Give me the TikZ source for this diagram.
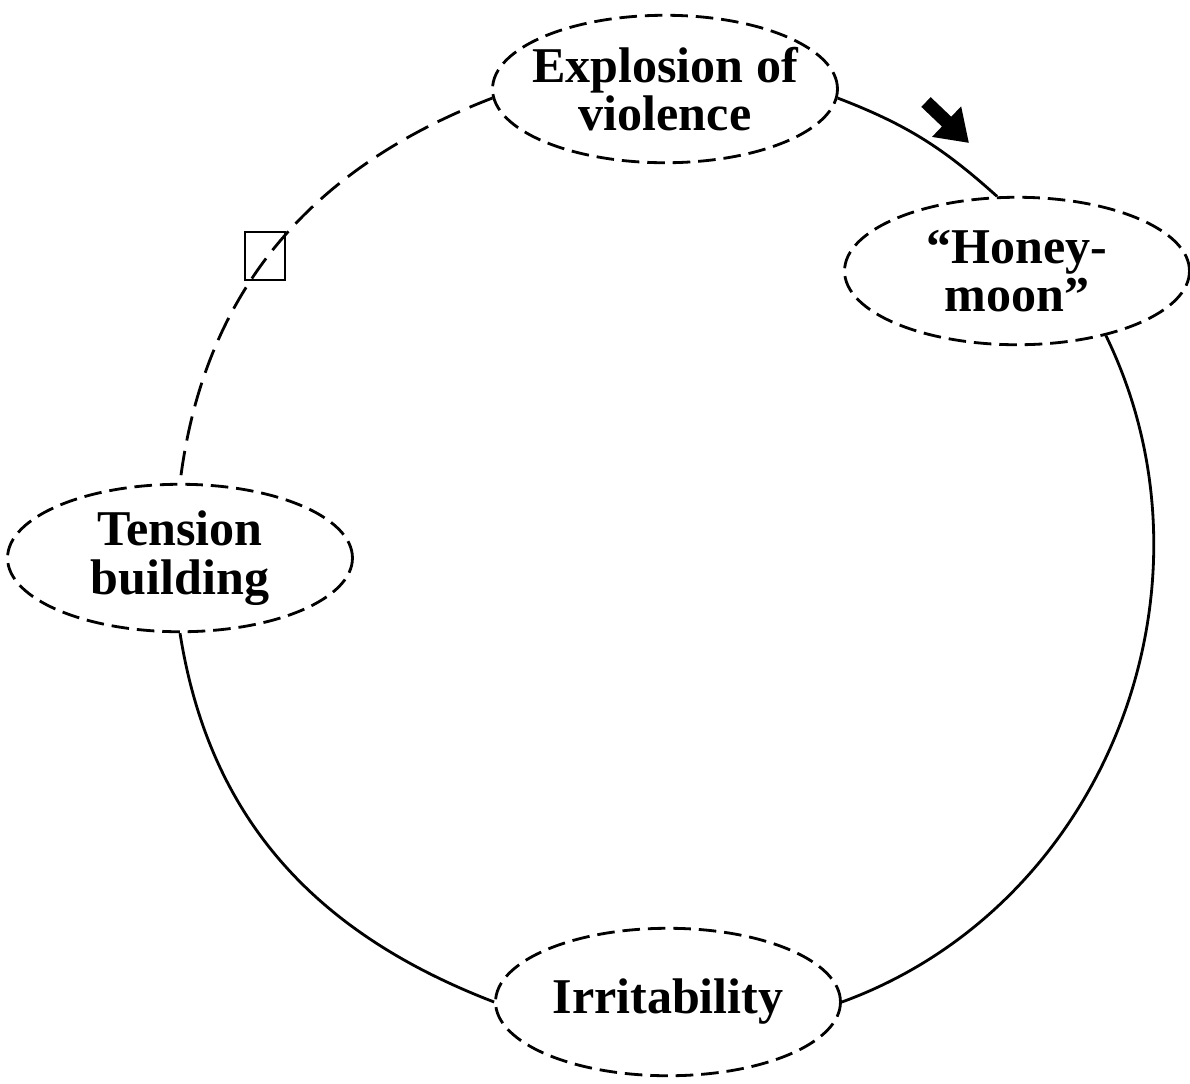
\documentclass[tikz,border=0pt]{standalone}
\usepackage{fontspec}
\setmainfont{Liberation Serif}
\usetikzlibrary{shapes.geometric,arrows.meta}

\begin{document}
\begin{tikzpicture}[x=0.02cm, y=-0.02cm, line width=1.6pt,
    stage/.style={ellipse, draw, dash pattern=on 10pt off 4.5pt, minimum width=6.9cm,
        minimum height=2.95cm, inner sep=0pt, inner xsep=-0.4cm, align=center,
        font=\fontsize{28.5}{27.5}\selectfont\bfseries}]
    \useasboundingbox (0,0) rectangle (1190,1083);
    \node[stage] (expl) at (665,89) {Explosion of\\violence};
    \node[stage] (honey) at (1017,271) {“Honey-\\moon”};
    \node[stage] (tens) at (180,558) {Tension\\building};
    \node[stage] (irr) at (668,1002) {Irritability};
    \draw[dash pattern=on 14pt off 6pt] (expl.183) to[out=201,in=83] (tens.north);
    \draw (tens.south) to[out=279,in=159] (irr.west);
    \draw (irr.east) to[out=20,in=296] (honey.-36);
    \draw (expl.357) to[out=-21,in=138] (honey.105);
    \node[draw, line width=1.3pt, minimum width=0.8cm, minimum height=0.96cm, inner sep=0pt] (box) at (265,256) {};
    \coordinate (arrS) at (926,102);
    \coordinate (arrE) at (969,143);
    \draw[line width=0.27cm, -{Triangle[length=0.62cm,width=0.8cm]}] (arrS) -- (arrE);
\end{tikzpicture}
\end{document}
